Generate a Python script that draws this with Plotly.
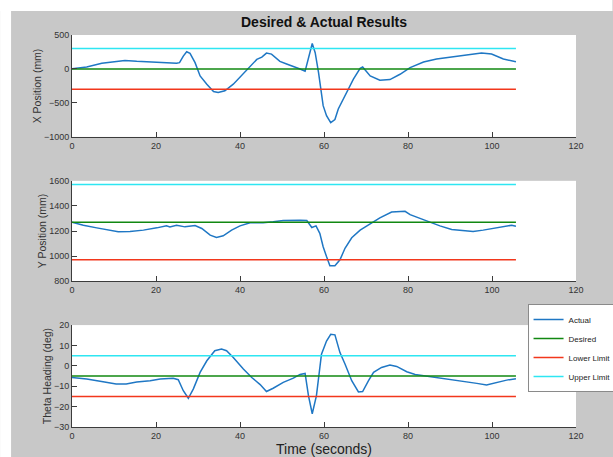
import plotly.graph_objects as go
from plotly.subplots import make_subplots

# ---------------- data ----------------
t_x = [0, 3.5, 7.1, 9.8, 12.6, 15.4, 20.2, 24.9, 25.6, 26.5, 27.3, 28.1, 29.3, 30.5, 32.1,
       33.7, 34.8, 36.4, 38.4, 40.8, 42.4, 44.0, 45.2, 46.3, 47.5, 49.5, 51.1, 52.7, 54.3,
       55.5, 56.3, 57.2, 57.9, 58.7, 59.8, 60.6, 61.6, 62.6, 63.4, 64.6, 65.8, 67.0, 68.6,
       69.2, 71.0, 73.3, 75.7, 78.1, 80.5, 83.7, 86.8, 90.7, 94.7, 97.5, 99.9, 102.7, 105.7]
x_actual = [5, 29, 83, 107, 125, 112, 93, 85, 93, 190, 253, 229, 93, -102, -224,
            -331, -345, -321, -224, -68, 44, 141, 175, 234, 219, 112, 73, 40, 0,
            -34, 141, 375, 239, -54, -540, -687, -790, -745, -589, -443, -321, -151, 10,
            29, -102, -166, -156, -78, 19, 102, 146, 175, 214, 234, 219, 146, 107]

t_y = [0, 2.7, 5.9, 8.3, 11.0, 13.8, 17.0, 20.2, 22.5, 23.3, 24.9, 26.9, 29.3, 30.9, 32.9,
       34.4, 36.0, 38.0, 40.0, 42.4, 45.5, 47.9, 50.3, 54.3, 55.9, 57.1, 58.1, 59.0, 59.8,
       60.6, 61.4, 62.6, 63.8, 65.0, 66.6, 68.6, 71.0, 73.3, 76.1, 77.7, 79.3, 80.5, 82.9,
       85.3, 87.6, 90.4, 92.8, 95.5, 97.9, 100.3, 102.7, 104.7, 105.7]
y_actual = [1270, 1246, 1225, 1212, 1194, 1196, 1207, 1225, 1241, 1233, 1246, 1233, 1244, 1220, 1167,
            1149, 1162, 1207, 1241, 1265, 1265, 1273, 1283, 1286, 1283, 1228, 1241, 1181, 1075,
            996, 923, 923, 970, 1062, 1146, 1207, 1260, 1304, 1351, 1357, 1357, 1330, 1299,
            1265, 1241, 1212, 1204, 1196, 1207, 1220, 1236, 1246, 1238]

t_th = [0, 3.5, 7.4, 10.5, 12.9, 15.4, 18.6, 21.0, 24.1, 25.3, 26.5, 27.7, 28.9, 30.5, 32.1,
        34.0, 35.6, 36.8, 38.4, 40.8, 42.8, 44.8, 46.3, 47.9, 50.3, 52.7, 54.3, 55.5, 56.3,
        57.2, 58.2, 59.4, 60.6, 61.6, 62.6, 63.8, 65.0, 66.6, 68.2, 69.2, 70.6, 71.8, 73.7,
        75.7, 77.3, 79.7, 81.7, 83.7, 86.8, 90.0, 93.2, 96.4, 98.7, 101.1, 103.5, 105.7]
th_actual = [-5.7, -6.5, -7.8, -8.9, -8.9, -7.9, -7.3, -6.5, -6.1, -6.8, -12.2, -15.9, -11.3, -3.2, 2.5,
             7.4, 8.2, 7.4, 4.1, -1.6, -5.7, -9.2, -12.6, -11.0, -8.1, -6.0, -4.2, -3.7, -14.6,
             -23.5, -14.6, 5.7, 12.2, 15.5, 15.2, 6.5, 0.9, -7.3, -12.8, -12.6, -7.3, -3.2, -0.8,
             0.4, -0.3, -2.9, -4.2, -4.8, -5.7, -6.5, -7.3, -8.6, -9.4, -8.1, -7.0, -6.3]

t_end = 105.7
desired = [0, 1270, -5]
margin_lim = [300, 300, 10]

y_titles = ["X Position (mm)", "Y Position (mm)", "Theta Heading (deg)"]
y_ranges = [[-1000, 500], [800, 1600], [-30, 20]]
y_dticks = [500, 200, 10]
x_ticks = [0, 20, 40, 60, 80, 100, 120]

names = ["Actual", "Desired", "Lower Limit", "Upper Limit"]
colors = ["#1f77c4", "#118811", "#f2371c", "#2ee6f2"]

# ---------------- figure ----------------
fig = make_subplots(rows=3, cols=1, shared_xaxes=False, vertical_spacing=0.0)
domains = [[0.740, 1.0], [0.372, 0.628], [0.0, 0.260]]

series = [(t_x, x_actual), (t_y, y_actual), (t_th, th_actual)]
for i, (tt, vv) in enumerate(series):
    r = i + 1
    d = desired[i]
    m = margin_lim[i]
    show = (r == 3)
    fig.add_trace(go.Scatter(x=tt, y=vv, mode="lines", name=names[0],
                             line=dict(color=colors[0], width=1.5), showlegend=show), row=r, col=1)
    fig.add_trace(go.Scatter(x=[0, t_end], y=[d, d], mode="lines", name=names[1],
                             line=dict(color=colors[1], width=1.5), showlegend=show), row=r, col=1)
    fig.add_trace(go.Scatter(x=[0, t_end], y=[d - m, d - m], mode="lines", name=names[2],
                             line=dict(color=colors[2], width=1.5), showlegend=show), row=r, col=1)
    fig.add_trace(go.Scatter(x=[0, t_end], y=[d + m, d + m], mode="lines", name=names[3],
                             line=dict(color=colors[3], width=1.5), showlegend=show), row=r, col=1)

axis_color = "#3c3c3c"
tick_font = dict(family="Arial, Liberation Sans, sans-serif", size=9, color="#333333")
for i in range(3):
    r = i + 1
    fig.update_xaxes(row=r, col=1, range=[0, 120], tickvals=x_ticks,
                     ticks="inside", ticklen=5, tickcolor=axis_color,
                     showline=True, linecolor=axis_color, linewidth=1, mirror=False,
                     showgrid=False, zeroline=False, tickfont=tick_font)
    fig.update_yaxes(row=r, col=1, range=y_ranges[i], dtick=y_dticks[i],
                     domain=domains[i],
                     ticks="inside", ticklen=5, tickcolor=axis_color,
                     showline=True, linecolor=axis_color, linewidth=1, mirror=False,
                     showgrid=False, zeroline=False, tickfont=tick_font,
                     title=dict(text=y_titles[i], standoff=0,
                                font=dict(family="Arial, Liberation Sans, sans-serif",
                                          size=10.5, color="#333333")))

fig.update_xaxes(row=3, col=1,
                 title=dict(text="Time (seconds)", standoff=2,
                            font=dict(family="Arial, Liberation Sans, sans-serif",
                                      size=14, color="#222222")))

W, H = 613, 457
L, R, T, B = 72, 36.5, 35, 30
pw, ph = W - L - R, H - T - B

def px_x(p):
    return (p - L) / pw

def px_y(p):
    return (H - B - p) / ph

fig.update_layout(
    width=W, height=H,
    margin=dict(l=L, r=R, t=T, b=B, autoexpand=False),
    paper_bgcolor="#c8c8c8",
    plot_bgcolor="white",
    font=dict(family="Arial, Liberation Sans, sans-serif", color="#222222"),
    title=dict(text="<b>Desired & Actual Results</b>", x=0.5, xref="paper",
               y=1 - 22.5 / H, yref="container", xanchor="center", yanchor="middle",
               font=dict(size=14, color="#111111")),
    legend=dict(x=px_x(528), y=px_y(304), xanchor="left", yanchor="top",
                bgcolor="white", bordercolor="#8a8a8a", borderwidth=1,
                font=dict(size=8, color="#222222"), itemwidth=30,
                tracegroupgap=0),
    shapes=[
        dict(type="rect", xref="paper", yref="paper", x0=px_x(0), x1=px_x(W),
             y0=px_y(11), y1=px_y(0), fillcolor="white", line=dict(width=0), layer="below"),
        dict(type="rect", xref="paper", yref="paper", x0=px_x(0), x1=px_x(11),
             y0=px_y(H), y1=px_y(0), fillcolor="white", line=dict(width=0), layer="below"),
    ],
)

fig.write_html("out.html",
               config={"displayModeBar": False},
               post_script="document.body.style.margin='0';document.body.style.padding='0';"
                           "document.body.style.overflow='hidden';")
